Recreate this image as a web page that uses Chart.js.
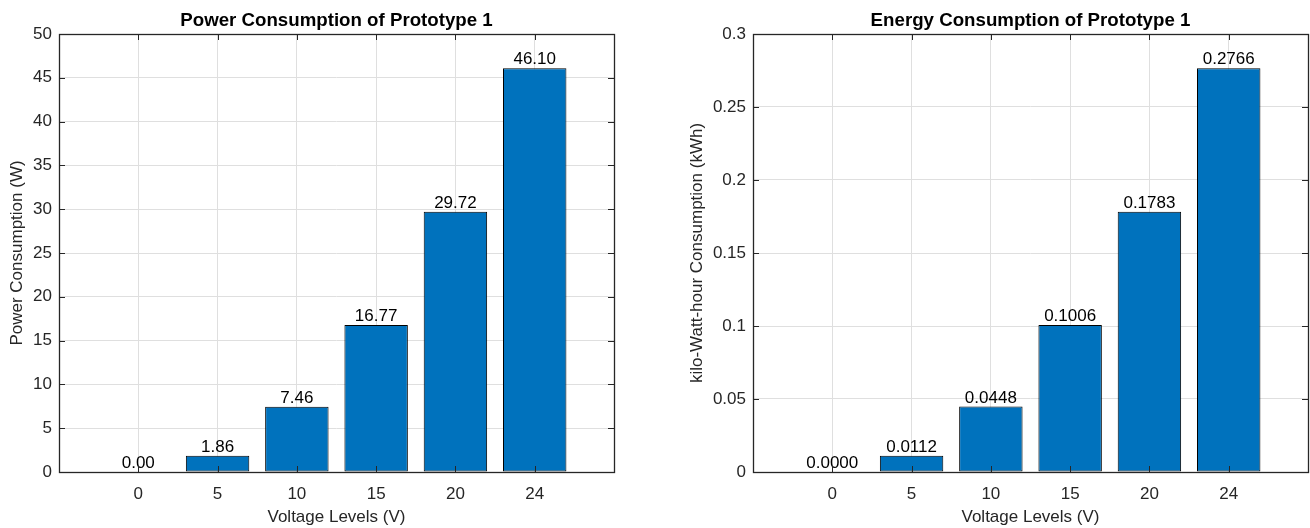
<!DOCTYPE html>
<html><head><meta charset="utf-8">
<script src="https://cdn.jsdelivr.net/npm/chart.js@4.4.1/dist/chart.umd.min.js"></script>
<style>
html,body{margin:0;padding:0;background:#fff;}
#wrap{position:relative;width:1310px;height:528px;overflow:hidden;}
canvas{position:absolute;top:0;}
</style>
</head><body>
<div id="wrap">
<canvas id="c1" width="655" height="528" style="left:0;width:655px;height:528px"></canvas>
<canvas id="c2" width="655" height="528" style="left:655px;width:655px;height:528px"></canvas>
</div>
<script>
// ---- data ----
const categories = ['0', '5', '10', '15', '20', '24'];
const powerValues = [0.00, 1.86, 7.46, 16.77, 29.72, 46.10];
const energyValues = [0.0000, 0.0112, 0.0448, 0.1006, 0.1783, 0.2766];
const powerTickValues = [0, 5, 10, 15, 20, 25, 30, 35, 40, 45, 50];
const powerTickLabels = ['0', '5', '10', '15', '20', '25', '30', '35', '40', '45', '50'];
const energyTickValues = [0, 0.05, 0.1, 0.15, 0.2, 0.25, 0.3];
const energyTickLabels = ['0', '0.05', '0.1', '0.15', '0.2', '0.25', '0.3'];

const FONT = '"Liberation Sans", Arial, Helvetica, sans-serif';
const AX = '#262626';
const BAR = '#0072BD';
const GRID = '#dfdfdf';

const matlabPlugin = {
  id: 'matlab',
  afterDatasetsDraw(chart, args, opts) {
    const {ctx, chartArea: a, scales: {x, y}} = chart;
    ctx.save();
    // value labels
    ctx.font = '17px ' + FONT;
    ctx.fillStyle = '#000';
    ctx.textAlign = 'center';
    ctx.textBaseline = 'alphabetic';
    const meta = chart.getDatasetMeta(0);
    const ds = chart.data.datasets[0].data;
    meta.data.forEach((bar, i) => {
      ctx.fillText(ds[i].y.toFixed(opts.decimals), bar.x, bar.y - 4);
    });
    // inward ticks on all four sides
    ctx.strokeStyle = AX;
    ctx.lineWidth = 1;
    const L = 6;
    ctx.beginPath();
    x.ticks.forEach(t => {
      if (t.value <= x.min || t.value >= x.max) return;
      const px = Math.round(x.getPixelForValue(t.value)) + 0.5;
      ctx.moveTo(px, a.bottom); ctx.lineTo(px, a.bottom - L);
      ctx.moveTo(px, a.top); ctx.lineTo(px, a.top + L);
    });
    y.ticks.forEach(t => {
      const py = Math.round(y.getPixelForValue(t.value)) + 0.5;
      ctx.moveTo(a.left, py); ctx.lineTo(a.left + L, py);
      ctx.moveTo(a.right, py); ctx.lineTo(a.right - L, py);
    });
    ctx.stroke();
    // box
    ctx.lineWidth = 1.3;
    ctx.strokeRect(Math.round(a.left) + 0.5, Math.round(a.top) + 0.5,
                   Math.round(a.right) - Math.round(a.left), Math.round(a.bottom) - Math.round(a.top));
    // title centred over the axes
    ctx.font = 'bold 18.7px ' + FONT;
    ctx.fillStyle = '#000';
    ctx.textAlign = 'center';
    ctx.textBaseline = 'alphabetic';
    ctx.fillText(opts.title, (a.left + a.right) / 2, 26);
    ctx.restore();
  }
};

function makeChart(id, cfg) {
  const data = cfg.values.map((v, i) => ({x: i + 1, y: v}));
  return new Chart(document.getElementById(id), {
    type: 'bar',
    data: {
      datasets: [{
        data: data,
        backgroundColor: BAR,
        borderColor: '#000',
        borderWidth: 1,
        borderSkipped: false,
        barPercentage: 0.8,
        categoryPercentage: 1.0
      }]
    },
    plugins: [matlabPlugin],
    options: {
      responsive: false,
      animation: false,
      devicePixelRatio: 1,
      layout: {autoPadding: false, padding: {left: 0, right: cfg.padRight, top: 34, bottom: 0}},
      plugins: {
        legend: {display: false},
        tooltip: {enabled: false},
        title: {display: false},
        matlab: {decimals: cfg.decimals, title: cfg.title}
      },
      scales: {
        x: {
          type: 'linear',
          offset: false,
          min: 0, max: 7,
          afterFit(s) { s.height = 56; s.paddingLeft = 0; s.paddingRight = 0; },
          afterBuildTicks(s) { s.ticks = [0, 1, 2, 3, 4, 5, 6, 7].map(v => ({value: v})); },
          ticks: {
            autoSkip: false, maxRotation: 0, padding: 12,
            color: AX,
            font: {family: FONT, size: 17},
            callback: (v) => (v >= 1 && v <= categories.length) ? categories[v - 1] : ''
          },
          grid: {color: GRID, lineWidth: 1, drawTicks: false, offset: false},
          border: {display: false},
          title: {
            display: true, text: 'Voltage Levels (V)', color: AX,
            font: {family: FONT, size: 17, lineHeight: 1.2},
            padding: {top: 0, bottom: 0}
          }
        },
        y: {
          type: 'linear',
          min: cfg.tickValues[0], max: cfg.tickValues[cfg.tickValues.length - 1],
          afterFit(s) { s.width = cfg.yWidth; s.paddingTop = 0; s.paddingBottom = 0; },
          afterBuildTicks(s) { s.ticks = cfg.tickValues.map(v => ({value: v})); },
          ticks: {
            padding: 7,
            color: AX,
            font: {family: FONT, size: 17},
            callback: (v, i) => cfg.tickLabels[i]
          },
          grid: {color: GRID, lineWidth: 1, drawTicks: false},
          border: {display: false},
          title: {
            display: true, text: cfg.yTitle, color: AX,
            font: {family: FONT, size: 17, lineHeight: 1.2},
            padding: {top: cfg.yTitlePad, bottom: 0}
          }
        }
      }
    }
  });
}

makeChart('c1', {
  values: powerValues, title: 'Power Consumption of Prototype 1',
  yTitle: 'Power Consumption (W)', tickValues: powerTickValues, tickLabels: powerTickLabels,
  decimals: 2, yWidth: 59, padRight: 41, yTitlePad: 7
});
makeChart('c2', {
  values: energyValues, title: 'Energy Consumption of Prototype 1',
  yTitle: 'kilo-Watt-hour Consumption (kWh)', tickValues: energyTickValues, tickLabels: energyTickLabels,
  decimals: 4, yWidth: 98, padRight: 2, yTitlePad: 32
});
</script>
</body></html>
